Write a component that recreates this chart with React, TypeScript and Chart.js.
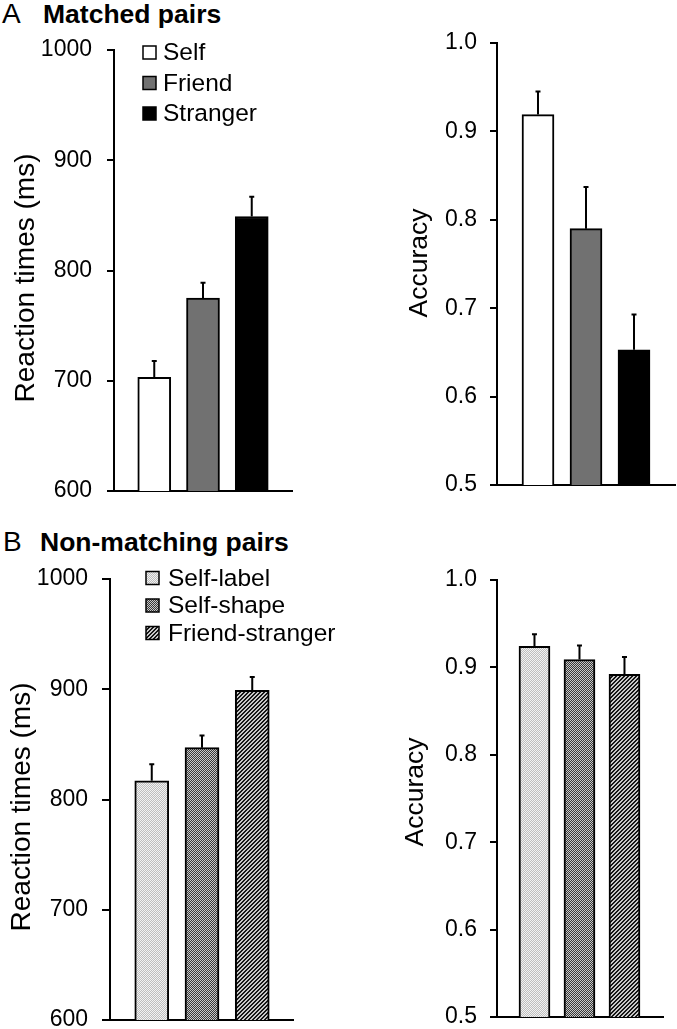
import React, { useEffect, useRef } from "react";
import { Chart, registerables } from "chart.js";

Chart.register(...registerables);

const FONT = "'Liberation Sans', Arial, Helvetica, sans-serif";

// ---- Panel A: matched pairs ----
const matchedConditions = ["Self", "Friend", "Stranger"];
const matchedRT = [703, 775, 849];
const matchedRTErr = [15, 14, 18];
const matchedAcc = [0.919, 0.79, 0.653];
const matchedAccErr = [0.026, 0.047, 0.04];
const matchedFills = ["white", "gray", "black"];

// ---- Panel B: non-matching pairs ----
const nonMatchConditions = ["Self-label", "Self-shape", "Friend-stranger"];
const nonMatchRT = [817, 847, 899];
const nonMatchRTErr = [15, 11, 12];
const nonMatchAcc = [0.924, 0.909, 0.892];
const nonMatchAccErr = [0.014, 0.016, 0.02];
const nonMatchFills = ["dots", "checker", "stripes"];

// ---- axes ----
const rtAxis = { min: 600, max: 1000, step: 100, decimals: 0 };
const accAxis = { min: 0.5, max: 1.0, step: 0.1, decimals: 1 };

function makeFill(ctx: CanvasRenderingContext2D, kind: string): any {
  if (kind === "white") return "#ffffff";
  if (kind === "gray") return "#717171";
  if (kind === "black") return "#000000";
  const c = document.createElement("canvas");
  c.width = 4;
  c.height = 4;
  const g = c.getContext("2d")!;
  let light = "#ffffff";
  let dark = "#000000";
  let test = (x: number, y: number) => (x + y) % 2 === 0;
  if (kind === "dots") {
    light = "#f2f2f2";
    dark = "#bdbdbd";
  } else if (kind === "checker") {
    light = "#c8c8c8";
    dark = "#383838";
  } else {
    light = "#c8c8c8";
    dark = "#161616";
    test = (x: number, y: number) => (x + y) % 4 < 2;
  }
  for (let y = 0; y < 4; y++) {
    for (let x = 0; x < 4; x++) {
      g.fillStyle = test(x, y) ? dark : light;
      g.fillRect(x, y, 1, 1);
    }
  }
  return ctx.createPattern(c, "repeat");
}

type LegendSpec = { x: number; y: number; gap: number; box: number; textX: number; size: number };

type PanelSpec = {
  left: number;
  top: number;
  width: number;
  height: number;
  padR: number;
  padT: number;
  padB: number;
  yWidth: number;
  xMin: number;
  xMax: number;
  barWidth: number;
  labels: string[];
  values: number[];
  errors: number[];
  fills: string[];
  axis: { min: number; max: number; step: number; decimals: number };
  tickPad: number;
  tickLen: number;
  yTitle: string;
  yTitleSize: number;
  yTitleX: number;
  yTitleY: number;
  legend?: LegendSpec;
};

function Panel(p: PanelSpec) {
  const ref = useRef<HTMLCanvasElement>(null);
  useEffect(() => {
    const canvas = ref.current!;
    const ctx0 = canvas.getContext("2d")!;
    const fills = p.fills.map((k) => makeFill(ctx0, k));

    const overlay = {
      id: "overlay",
      afterDatasetsDraw(chart: any) {
        const ctx = chart.ctx as CanvasRenderingContext2D;
        const meta = chart.getDatasetMeta(0);
        const ys = chart.scales.y;
        ctx.save();
        ctx.strokeStyle = "#000";
        ctx.lineWidth = 2;
        meta.data.forEach((bar: any, i: number) => {
          const top = ys.getPixelForValue(p.values[i] + p.errors[i]);
          ctx.beginPath();
          ctx.moveTo(bar.x, bar.y);
          ctx.lineTo(bar.x, top);
          ctx.moveTo(bar.x - 2.5, top);
          ctx.lineTo(bar.x + 2.5, top);
          ctx.stroke();
        });
        ctx.restore();

        // y-axis title
        ctx.save();
        ctx.translate(p.yTitleX, p.yTitleY);
        ctx.rotate(-Math.PI / 2);
        ctx.font = `${p.yTitleSize}px ${FONT}`;
        ctx.fillStyle = "#000";
        ctx.textAlign = "center";
        ctx.textBaseline = "alphabetic";
        ctx.fillText(p.yTitle, 0, 0);
        ctx.restore();

        // legend
        if (p.legend) {
          const L = p.legend;
          ctx.save();
          ctx.font = `${L.size}px ${FONT}`;
          ctx.textBaseline = "middle";
          ctx.textAlign = "left";
          p.labels.forEach((lab, i) => {
            const cy = L.y + i * L.gap;
            ctx.fillStyle = fills[i];
            ctx.fillRect(L.x, cy - L.box / 2, L.box, L.box);
            ctx.strokeStyle = "#000";
            ctx.lineWidth = 1.5;
            ctx.strokeRect(L.x, cy - L.box / 2, L.box, L.box);
            ctx.fillStyle = "#000";
            ctx.fillText(lab, L.textX, cy + 1);
          });
          ctx.restore();
        }
      },
    };

    const chart = new Chart(canvas, {
      type: "bar",
      data: {
        datasets: [
          {
            data: p.values.map((v, i) => ({ x: i + 1, y: v })),
            backgroundColor: fills,
            borderColor: "#000",
            borderWidth: 2,
            barThickness: p.barWidth,
          } as any,
        ],
      },
      options: {
        animation: false,
        responsive: false,
        maintainAspectRatio: false,
        devicePixelRatio: 1,
        layout: { padding: { left: 0, right: p.padR, top: p.padT, bottom: p.padB } },
        plugins: { legend: { display: false }, tooltip: { enabled: false } },
        scales: {
          x: {
            type: "linear",
            min: p.xMin,
            max: p.xMax,
            offset: false,
            ticks: { display: false },
            grid: { drawOnChartArea: false, drawTicks: false, offset: false },
            border: { display: true, color: "#000", width: 2 },
            afterFit(s: any) {
              s.height = 0;
              s.paddingLeft = 0;
              s.paddingRight = 0;
            },
          },
          y: {
            min: p.axis.min,
            max: p.axis.max,
            ticks: {
              stepSize: p.axis.step,
              color: "#000",
              padding: p.tickPad,
              font: { family: FONT, size: 23 },
              callback: (v: any) => Number(v).toFixed(p.axis.decimals),
            },
            grid: {
              drawOnChartArea: false,
              drawTicks: true,
              tickLength: p.tickLen,
              color: "#000",
              lineWidth: 2,
            },
            border: { display: true, color: "#000", width: 2 },
            afterFit(s: any) {
              s.width = p.yWidth;
              s.paddingTop = 0;
              s.paddingBottom = 0;
            },
          },
        },
      } as any,
      plugins: [overlay],
    });
    return () => chart.destroy();
  }, []);
  return (
    <canvas
      ref={ref}
      width={p.width}
      height={p.height}
      style={{ position: "absolute", left: p.left, top: p.top, width: p.width, height: p.height }}
    />
  );
}

const headStyle: React.CSSProperties = {
  position: "absolute",
  fontFamily: FONT,
  fontSize: 26,
  lineHeight: "26px",
  color: "#000",
  whiteSpace: "nowrap",
};

export default function App() {
  return (
    <div style={{ position: "absolute", left: 0, top: 0, width: 677, height: 1029, background: "#fff", overflow: "hidden" }}>
      <div style={{ ...headStyle, left: 2, top: 0, fontSize: 28, lineHeight: "28px" }}>A</div>
      <div style={{ ...headStyle, left: 43, top: 1, fontWeight: "bold", fontSize: 26.5 }}>Matched pairs</div>
      <div style={{ ...headStyle, left: 3, top: 528, fontSize: 28, lineHeight: "28px" }}>B</div>
      <div style={{ ...headStyle, left: 40, top: 529, fontWeight: "bold", fontSize: 26.5 }}>Non-matching pairs</div>

      <Panel
        left={0}
        top={0}
        width={340}
        height={505}
        padR={48}
        padT={50}
        padB={14}
        yWidth={114}
        xMin={0.174}
        xMax={3.826}
        barWidth={33}
        labels={matchedConditions}
        values={matchedRT}
        errors={matchedRTErr}
        fills={matchedFills}
        axis={rtAxis}
        tickPad={15}
        tickLen={7}
        yTitle="Reaction times (ms)"
        yTitleSize={28}
        yTitleX={34}
        yTitleY={278}
        legend={{ x: 143, y: 52.5, gap: 30.5, box: 13, textX: 163, size: 24.5 }}
      />
      <Panel
        left={340}
        top={0}
        width={337}
        height={505}
        padR={2}
        padT={43}
        padB={20}
        yWidth={157}
        xMin={0.146}
        xMax={3.854}
        barWidth={32}
        labels={matchedConditions}
        values={matchedAcc}
        errors={matchedAccErr}
        fills={matchedFills}
        axis={accAxis}
        tickPad={13}
        tickLen={7}
        yTitle="Accuracy"
        yTitleSize={26.5}
        yTitleX={87}
        yTitleY={263}
      />
      <Panel
        left={0}
        top={515}
        width={340}
        height={514}
        padR={47}
        padT={64}
        padB={9}
        yWidth={110}
        xMin={0.169}
        xMax={3.811}
        barWidth={34}
        labels={nonMatchConditions}
        values={nonMatchRT}
        errors={nonMatchRTErr}
        fills={nonMatchFills}
        axis={rtAxis}
        tickPad={14}
        tickLen={8}
        yTitle="Reaction times (ms)"
        yTitleSize={28}
        yTitleX={30}
        yTitleY={292}
        legend={{ x: 146, y: 63, gap: 27.5, box: 13, textX: 168, size: 24.5 }}
      />
      <Panel
        left={340}
        top={515}
        width={337}
        height={514}
        padR={14}
        padT={65}
        padB={12}
        yWidth={157}
        xMin={0.167}
        xMax={3.856}
        barWidth={31}
        labels={nonMatchConditions}
        values={nonMatchAcc}
        errors={nonMatchAccErr}
        fills={nonMatchFills}
        axis={accAxis}
        tickPad={13}
        tickLen={7}
        yTitle="Accuracy"
        yTitleSize={26.5}
        yTitleX={83}
        yTitleY={277}
      />
    </div>
  );
}
